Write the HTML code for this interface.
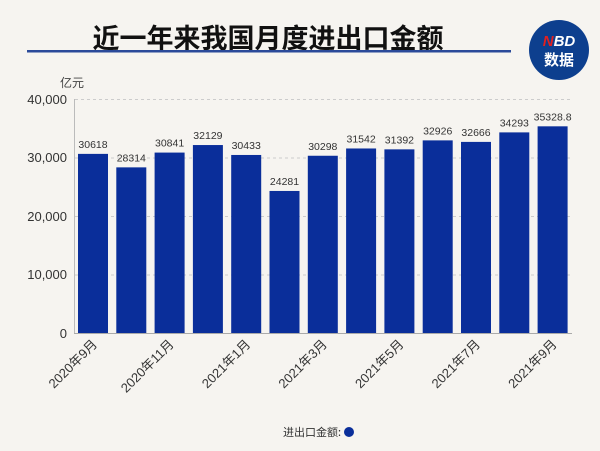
<!DOCTYPE html>
<html><head><meta charset="utf-8"><style>
body{margin:0;width:600px;height:446px;background:#f6f4f0;overflow:hidden;font-family:"Liberation Sans","Noto Sans CJK SC",sans-serif}
</style></head><body>
<svg width="600" height="446" viewBox="0 0 600 446" xmlns="http://www.w3.org/2000/svg" font-family="Liberation Sans, Noto Sans CJK SC, sans-serif">
<rect width="600" height="446" fill="#f6f4f0"/>
<text x="268" y="48" font-size="27" font-weight="bold" text-anchor="middle" fill="#111" font-family="Noto Sans CJK SC, sans-serif">近一年来我国月度进出口金额</text>
<rect x="27" y="50" width="484" height="2.5" fill="#2b4a9a"/>
<circle cx="559" cy="50" r="30" fill="#0d3f8e"/>
<text x="559" y="46" font-size="15" font-weight="bold" text-anchor="middle" fill="#fff" font-style="italic"><tspan fill="#e02020">N</tspan>BD</text>
<text x="559" y="65" font-size="15" font-weight="bold" text-anchor="middle" fill="#fff" font-family="Noto Sans CJK SC, sans-serif">数据</text>
<text x="72" y="87" font-size="12" text-anchor="middle" fill="#444" font-family="Noto Sans CJK SC, sans-serif">亿元</text>
<g stroke="#ccc" stroke-dasharray="3,3" stroke-width="1">
<line x1="75" y1="99.5" x2="572" y2="99.5"/><line x1="75" y1="158" x2="572" y2="158"/><line x1="75" y1="216.5" x2="572" y2="216.5"/><line x1="75" y1="275" x2="572" y2="275"/>
</g>
<line x1="74.5" y1="99" x2="74.5" y2="333" stroke="#bbb"/>
<line x1="74" y1="333.5" x2="572" y2="333.5" stroke="#aaa"/>
<g font-size="13" fill="#333" text-anchor="end">
<text x="67" y="104">40,000</text><text x="67" y="162">30,000</text><text x="67" y="221">20,000</text><text x="67" y="279">10,000</text><text x="67" y="338">0</text>
</g>
<g fill="#0a2e9a" id="bars"></g>
<g id="lbl" font-size="10.5" fill="#333" text-anchor="middle"></g>
<g id="xl" font-size="13" fill="#333" text-anchor="end" font-family="Liberation Sans, Noto Sans CJK SC, sans-serif"></g>
<text x="312" y="436" font-size="11" fill="#333" text-anchor="middle" font-family="Noto Sans CJK SC, sans-serif">进出口金额:</text>
<circle cx="349" cy="432" r="5" fill="#0a2e9a"/>
<script>
var v=[30618,28314,30841,32129,30433,24281,30298,31542,31392,32926,32666,34293,35328.8];
var b=document.getElementById('bars'),l=document.getElementById('lbl'),xl=document.getElementById('xl'),ns='http://www.w3.org/2000/svg';
var xs=["2020年9月","2020年11月","2021年1月","2021年3月","2021年5月","2021年7月","2021年9月"];
v.forEach(function(d,i){var x=78+i*38.3,h=d*0.00585,y=333-h;
var r=document.createElementNS(ns,'rect');r.setAttribute('x',x);r.setAttribute('y',y);r.setAttribute('width',30);r.setAttribute('height',h);b.appendChild(r);
var t=document.createElementNS(ns,'text');t.setAttribute('x',x+15);t.setAttribute('y',y-6);t.textContent=d;l.appendChild(t);
if(i%2==0){var s=document.createElementNS(ns,'text');var cx=x+20,cy=345;s.setAttribute('x',cx);s.setAttribute('y',cy);s.setAttribute('transform','rotate(-45 '+cx+' '+cy+')');s.textContent=xs[i/2];xl.appendChild(s);}
});
</script>
</svg>
</body></html>
